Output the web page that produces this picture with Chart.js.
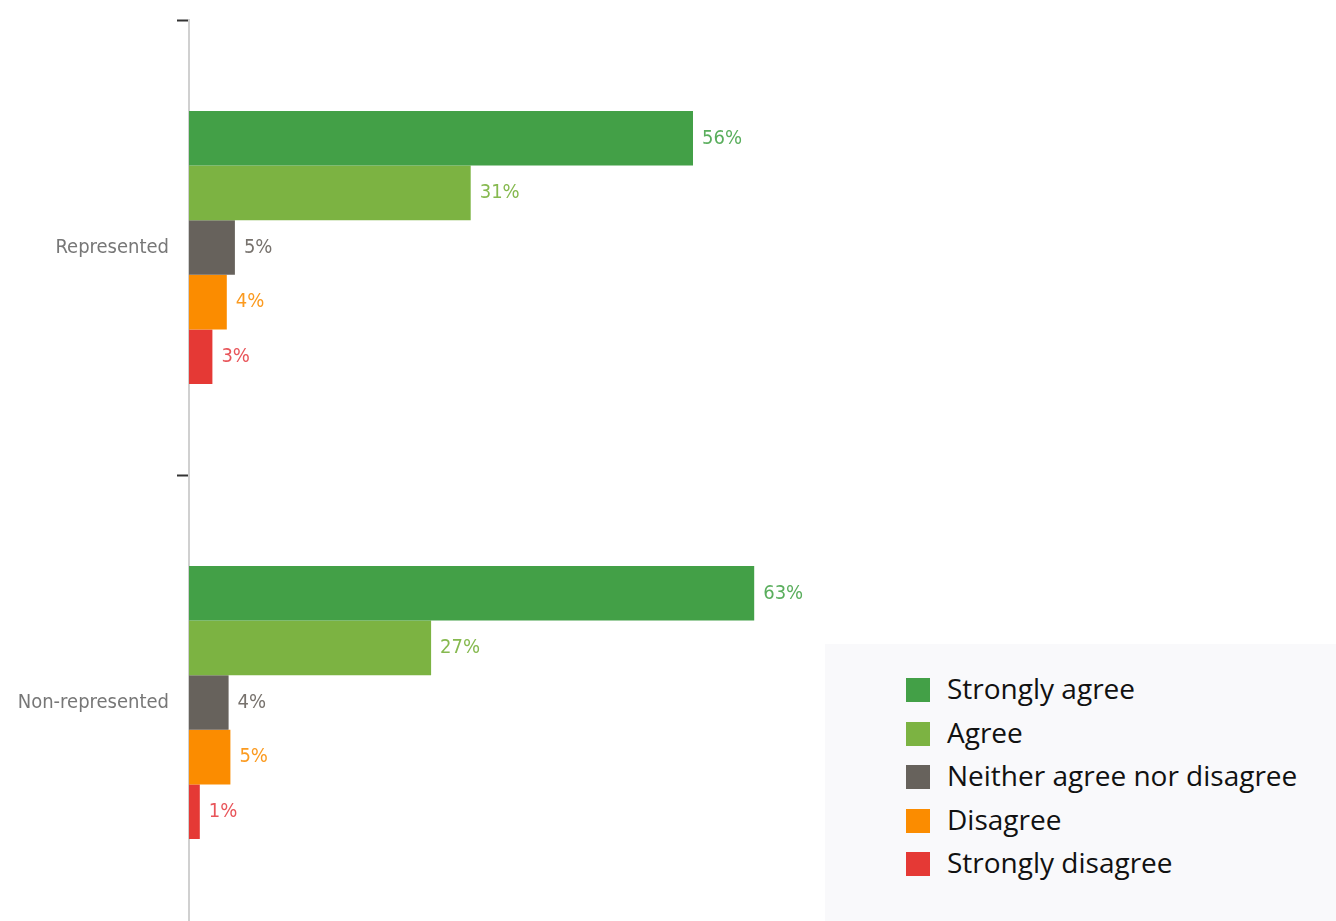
<!DOCTYPE html>
<html lang="en">
<head>
    <meta charset="UTF-8">
    <title>Agreement by representation</title>
    <script src="https://cdn.jsdelivr.net/npm/chart.js"></script>
    <style>
        html, body {
            margin: 0;
            width: 1336px;
            height: 921px;
            overflow: hidden;
            background: #ffffff;
        }
        #chartBox {
            position: absolute;
            left: 0;
            top: 0;
            width: 1336px;
            height: 950px;
        }
        #legend {
            position: absolute;
            left: 825px;
            top: 644px;
            width: 511px;
            height: 277px;
            background: #f9f9fb;
            font-family: "Open Sans", sans-serif;
            font-size: 28px;
            color: #111;
        }
        .item {
            position: absolute;
            left: 81px;
            height: 30px;
            line-height: 30px;
            white-space: nowrap;
        }
        .item span.sw {
            display: inline-block;
            width: 24px;
            height: 24px;
            vertical-align: -3px;
            margin-right: 17px;
        }
    </style>
</head>
<body>
    <div id="chartBox"><canvas id="chart"></canvas></div>
    <div id="legend"></div>

    <script>
        // categories and series (percent, labels show rounded values)
        const groups = ["Represented", "Non-represented"];
        const answerLabels = ["Strongly agree", "Agree", "Neither agree nor disagree", "Disagree", "Strongly disagree"];
        const stronglyAgree = [56.0, 62.8];
        const agree = [31.3, 26.9];
        const neither = [5.1, 4.4];
        const disagree = [4.2, 4.6];
        const stronglyDisagree = [2.6, 1.2];
        const colors = ["#43a047", "#7cb342", "#67625c", "#fb8c00", "#e53935"];
        const labelColors = ["#5aae5d", "#86b94f", "#77726d", "#fb9a1f", "#e8555a"];

        const seriesValues = [stronglyAgree, agree, neither, disagree, stronglyDisagree];

        // value labels at the end of each bar
        const barLabels = {
            id: 'barLabels',
            afterDatasetsDraw(chart) {
                const ctx = chart.ctx;
                ctx.save();
                ctx.font = '20px "DejaVu Sans Condensed", sans-serif';
                ctx.textBaseline = 'middle';
                ctx.textAlign = 'left';
                chart.data.datasets.forEach((ds, i) => {
                    chart.getDatasetMeta(i).data.forEach((bar, j) => {
                        ctx.fillStyle = labelColors[i];
                        ctx.fillText(Math.round(ds.data[j]) + '%', bar.x + 9, bar.y);
                    });
                });
                ctx.restore();
            }
        };

        const chart = new Chart(document.getElementById('chart'), {
            type: 'bar',
            data: {
                labels: groups,
                datasets: answerLabels.map((name, i) => ({
                    label: name,
                    data: seriesValues[i],
                    backgroundColor: colors[i],
                    categoryPercentage: 0.6,
                    barPercentage: 1.0
                }))
            },
            options: {
                indexAxis: 'y',
                responsive: true,
                maintainAspectRatio: false,
                animation: false,
                layout: { padding: { top: 17, right: 247, bottom: 8, left: 0 } },
                plugins: {
                    legend: { display: false },
                    tooltip: { enabled: false }
                },
                scales: {
                    x: {
                        display: false,
                        min: 0,
                        max: 100
                    },
                    y: {
                        afterFit(scale) { scale.width = 189; },
                        border: { color: '#d0d0d0', width: 2 },
                        grid: {
                            offset: true,
                            drawOnChartArea: false,
                            tickLength: 12,
                            tickColor: '#333',
                            tickWidth: 2
                        },
                        ticks: {
                            padding: 8,
                            color: '#777',
                            font: { family: '"DejaVu Sans Condensed", sans-serif', size: 20 }
                        }
                    }
                }
            },
            plugins: [barLabels]
        });

        // legend built from the same arrays
        const legend = document.getElementById('legend');
        answerLabels.forEach((name, i) => {
            const div = document.createElement('div');
            div.className = 'item';
            div.style.top = (29 + i * 43.5) + 'px';
            div.innerHTML = '<span class="sw" style="background:' + colors[i] + '"></span>' + name;
            legend.appendChild(div);
        });
    </script>
</body>
</html>
